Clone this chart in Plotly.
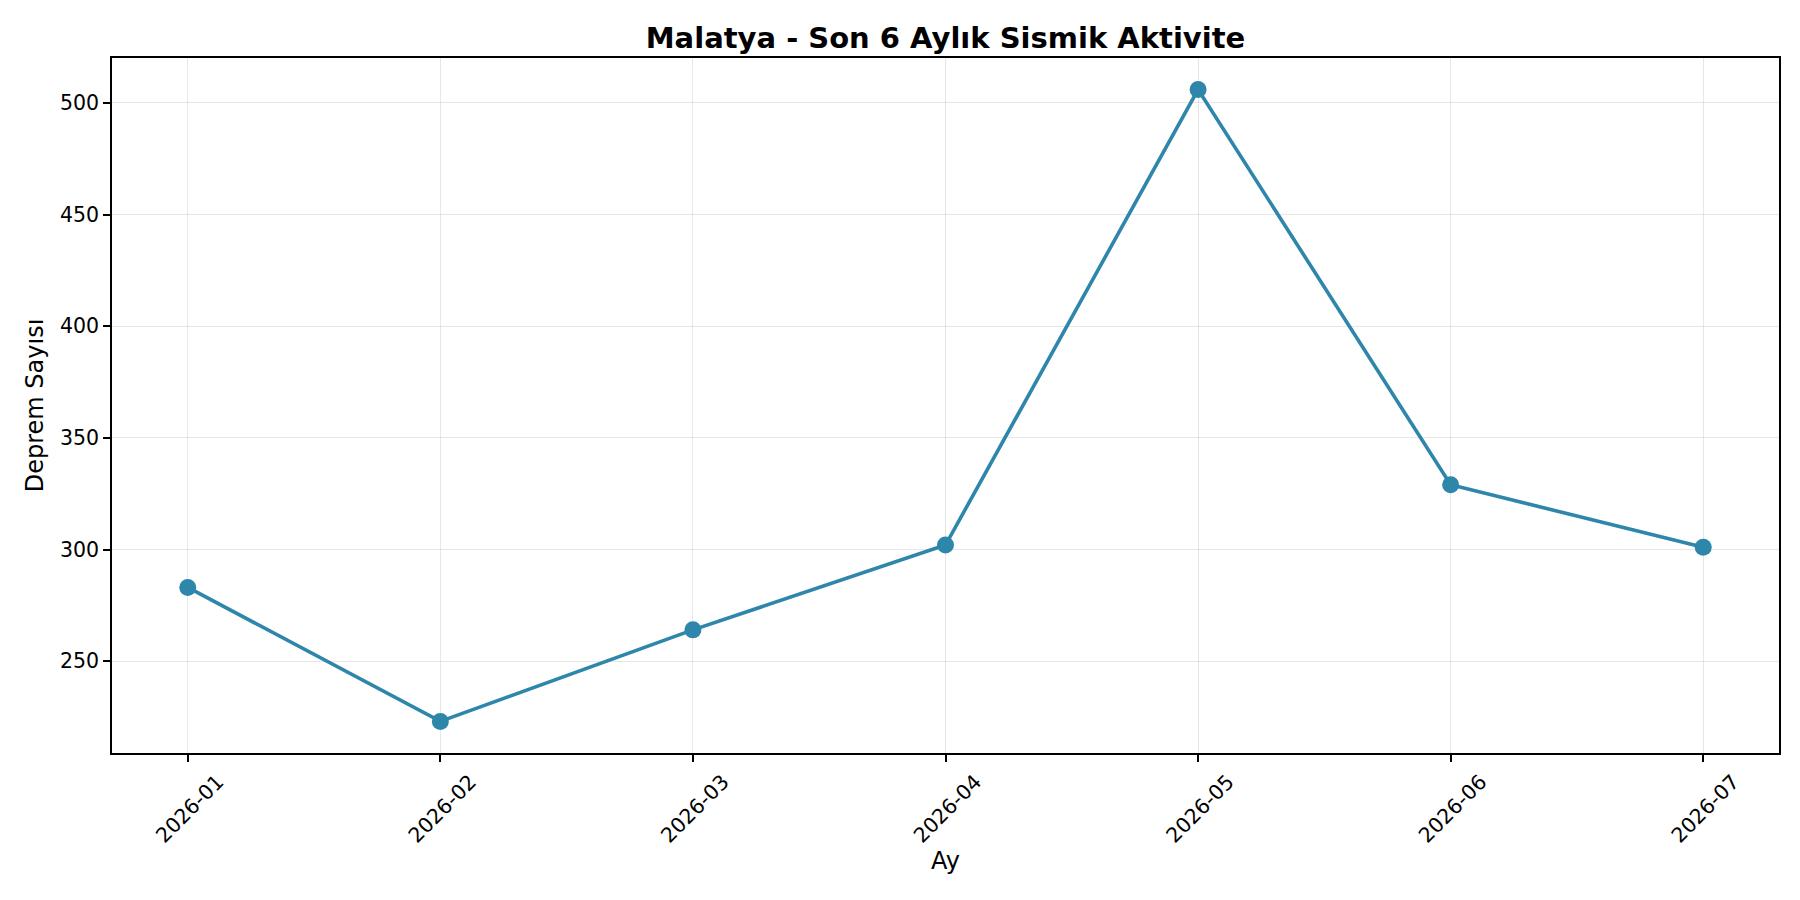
import plotly.graph_objects as go

months = ["2026-01", "2026-02", "2026-03", "2026-04", "2026-05", "2026-06", "2026-07"]
counts = [283, 223, 264, 302, 506, 329, 301]
y_ticks = [250, 300, 350, 400, 450, 500]

title_text = "Malatya - Son 6 Aylık Sismik Aktivite"
x_title = "Ay"
y_title = "Deprem Sayısı"

color = "#2E86AB"
font_family = "DejaVu Sans"

fig = go.Figure()
fig.add_trace(go.Scatter(
    x=months, y=counts, mode="lines+markers",
    line=dict(color=color, width=3.6),
    marker=dict(color=color, size=17),
    showlegend=False,
))

ymin, ymax = min(counts), max(counts)
pad = (ymax - ymin) * 0.05

fig.update_layout(
    width=1800, height=900,
    paper_bgcolor="white", plot_bgcolor="white",
    margin=dict(l=104, r=29, t=50, b=155),
    font=dict(family=font_family, color="black", size=20),
    title=dict(text="<b>" + title_text + "</b>", xref="paper", x=0.5, xanchor="center",
               y=1 - 30 / 900, yanchor="middle",
               font=dict(size=29, family=font_family, color="black")),
)
fig.update_xaxes(
    type="category", range=[-0.3, 6.3],
    showline=True, linecolor="black", linewidth=1.6, mirror=True,
    ticks="outside", ticklen=7, tickwidth=1.6, tickcolor="black",
    tickangle=-45, tickfont=dict(size=20.5), ticklabelshift=30,
    showgrid=True, gridcolor="rgba(176,176,176,0.3)", gridwidth=1.3,
    title=dict(text=x_title, font=dict(size=24), standoff=6),
    zeroline=False,
)
fig.update_yaxes(
    range=[ymin - pad, ymax + pad], tickvals=y_ticks,
    showline=True, linecolor="black", linewidth=1.6, mirror=True,
    ticks="outside", ticklen=7, tickwidth=1.6, tickcolor="black",
    tickfont=dict(size=20.5),
    showgrid=True, gridcolor="rgba(176,176,176,0.3)", gridwidth=1.3,
    title=dict(text=y_title, font=dict(size=24), standoff=10),
    zeroline=False,
)

fig.write_html("out.html")
